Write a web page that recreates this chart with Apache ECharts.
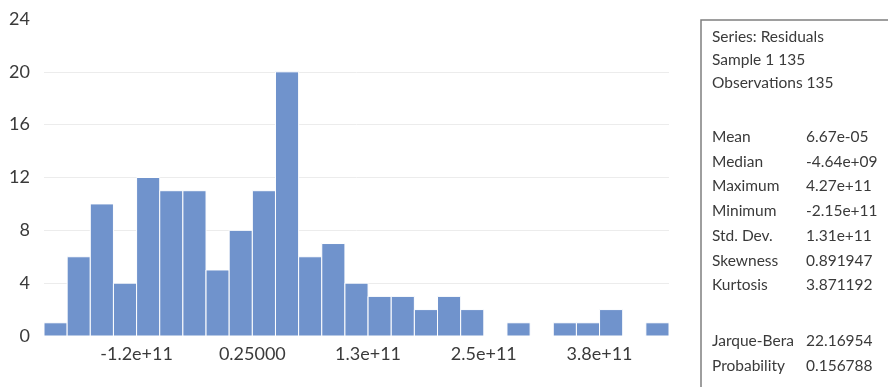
<!DOCTYPE html>
<html>
<head>
<meta charset="utf-8">
<script src="https://cdn.jsdelivr.net/npm/echarts@6/dist/echarts.min.js"></script>
<style>
  html, body { margin: 0; padding: 0; background: #fff; }
  #chart { width: 888px; height: 387px; }
</style>
</head>
<body>
<div id="chart"></div>
<script>
// histogram of residuals, 27 bins of width 2.5e10
const binStart = -2.25e11
const binWidth = 2.5e10
const counts = [1, 6, 10, 4, 12, 11, 11, 5, 8, 11, 20, 6, 7, 4, 3, 3, 2, 3, 2, 0, 1, 0, 1, 1, 2, 0, 1]

const xTickValues = [-1.25e11, 0, 1.25e11, 2.5e11, 3.75e11]
const xTickLabels = ['-1.2e+11', '0.25000', '1.3e+11', '2.5e+11', '3.8e+11']

const headerLines = ['Series: Residuals', 'Sample 1 135', 'Observations 135']
const statNames = ['Mean', 'Median', 'Maximum', 'Minimum', 'Std. Dev.', 'Skewness', 'Kurtosis']
const statValues = ['6.67e-05', '-4.64e+09', '4.27e+11', '-2.15e+11', '1.31e+11', '0.891947', '3.871192']
const testNames = ['Jarque-Bera', 'Probability']
const testValues = ['22.16954', '0.156788']

const barColor = '#7093cc'
const textColor = '#3a3a3a'
const font = 'Lato'

const chart = echarts.init(document.getElementById('chart'))

const binData = counts.map((c, i) => [binStart + i * binWidth, binStart + (i + 1) * binWidth, c])

// stats box on the right
const lineH = 24.7
const boxX = 712
const valX = 806
const graphics = [
  {
    type: 'rect',
    shape: { x: 701, y: 20, width: 200, height: 400 },
    style: { fill: '#fff', stroke: '#7f7f7f', lineWidth: 1.5 },
  },
]
const addText = (text, x, y) => {
  graphics.push({
    type: 'text',
    x: x,
    y: y,
    style: {
      text: text,
      font: '15.5px ' + font,
      fill: textColor,
      textVerticalAlign: 'middle',
    },
  })
}
headerLines.forEach((t, i) => addText(t, boxX, 37 + i * 23))
statNames.forEach((t, i) => {
  addText(t, boxX, 137 + i * lineH)
  addText(statValues[i], valX, 137 + i * lineH)
})
testNames.forEach((t, i) => {
  addText(t, boxX, 341 + i * lineH)
  addText(testValues[i], valX, 341 + i * lineH)
})

chart.setOption({
  animation: false,
  backgroundColor: '#fff',
  grid: {
    left: 44,
    right: 219,
    top: 19,
    bottom: 51,
  },
  xAxis: {
    type: 'value',
    min: binStart,
    max: binStart + counts.length * binWidth,
    axisLine: { show: false },
    axisTick: { show: false },
    splitLine: { show: false },
    axisLabel: {
      customValues: xTickValues,
      fontFamily: font,
      fontSize: 18,
      color: textColor,
      margin: 9,
      formatter: v => {
        const i = xTickValues.findIndex(t => Math.abs(t - v) < 1)
        return i >= 0 ? xTickLabels[i] : ''
      },
    },
  },
  yAxis: {
    type: 'value',
    min: 0,
    max: 24,
    interval: 4,
    axisLine: { show: false },
    axisTick: { show: false },
    axisLabel: {
      fontFamily: font,
      fontSize: 18,
      color: textColor,
      margin: 14,
    },
    splitLine: {
      showMinLine: false,
      showMaxLine: false,
      lineStyle: { color: '#ececec', width: 1 },
    },
  },
  series: [
    {
      type: 'custom',
      data: binData,
      encode: { x: [0, 1], y: 2 },
      renderItem: (params, api) => {
        const p0 = api.coord([api.value(0), api.value(2)])
        const p1 = api.coord([api.value(1), 0])
        return {
          type: 'rect',
          shape: { x: p0[0], y: p0[1], width: p1[0] - p0[0], height: p1[1] - p0[1] },
          style: { fill: barColor, stroke: '#fff', lineWidth: 1 },
        }
      },
    },
  ],
  graphic: graphics,
})
</script>
</body>
</html>
